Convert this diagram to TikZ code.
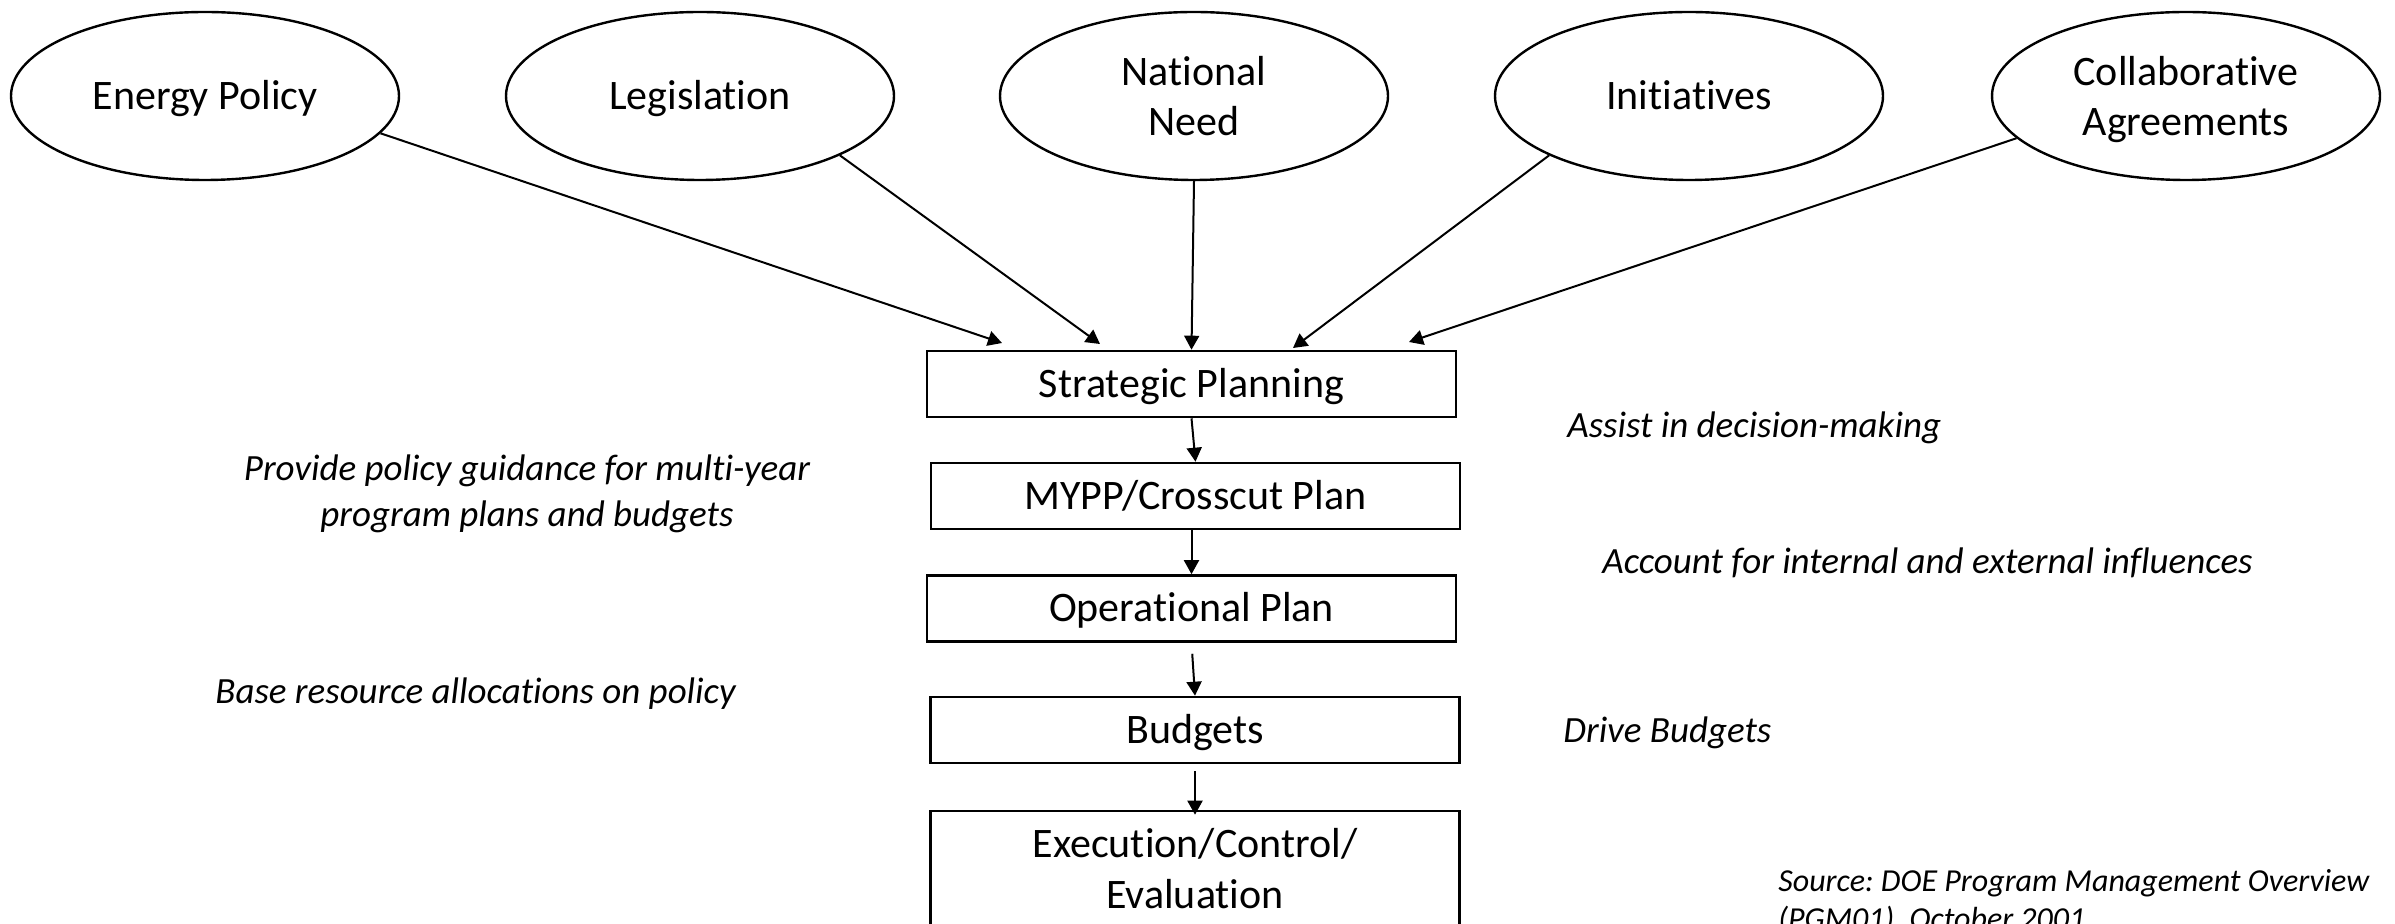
\documentclass[tikz,border=0pt]{standalone}
\usepackage{fontspec}
\setmainfont{Carlito}[Ligatures=NoCommon]
\usetikzlibrary{shapes.geometric,arrows.meta}
\frenchspacing
\begin{document}
\begin{tikzpicture}[x=0.5pt,y=-0.5pt,
  oval/.style={draw,ellipse,line width=1.2pt,minimum width=194pt,minimum height=84pt,inner sep=0pt,align=center,font=\fontsize{21}{25}\selectfont},
  one/.style={text height=16pt,text depth=2.5pt},
  box/.style={draw,rectangle,line width=1.3pt,minimum width=264.5pt,minimum height=33pt,inner sep=0pt,align=center,font=\fontsize{21}{25.5}\selectfont},
  note/.style={inner sep=0pt,align=center,font=\fontsize{18.5}{23}\selectfont\itshape},
  arr/.style={-{Triangle[length=7pt,width=7.5pt]},line width=1pt}]
\path[use as bounding box] (0,0) rectangle (2395,924);
\fill[white] (0,0) rectangle (2395,924);
\clip (0,0) rectangle (2395,924);
% top ovals
\node[oval,one] (e1) at (205,96) {Energy Policy};
\node[oval,one] (e2) at (700,96) {Legislation};
\node[oval] (e3) at (1194,96) {National\\Need};
\node[oval,one] (e4) at (1689,96) {Initiatives};
\node[oval] (e5) at (2186,96) {Collaborative\\\raisebox{0pt}[\height][0pt]{Agreements}};
% boxes
\node[box,one] (sp) at (1191.5,384) {Strategic Planning};
\node[box,one] (my) at (1195.5,496) {MYPP/Crosscut Plan};
\node[box,one] (op) at (1191.5,608.5) {Operational Plan};
\node[box,one] (bu) at (1195,730) {Budgets};
\node[box,minimum height=57.5pt] (ex) at (1195,868.5) {Execution/Control/\\Evaluation};
% arrow ends
\coordinate (t1) at (1002,343);
\coordinate (t2) at (1100,344);
\coordinate (t4) at (1293,348);
\coordinate (t5) at (1409,342);
\draw[arr] (e1.-12) -- (t1);
\draw[arr] (e2.-23) -- (t2);
\draw[arr] (e3.south) -- (sp.north);
\draw[arr] (e4.-157) -- (t4);
\draw[arr] (e5.-166) -- (t5);
\draw[arr] (sp.south) -- (my.north);
\draw[arr] (my.south -| op.north) -- (op.north);
\draw[arr,shorten <=5.5pt] (op.south) -- (bu.north);
\draw[arr,shorten <=3.5pt,shorten >=-2.5pt] (bu.south) -- (ex.north);
% notes
\node[note] (n1) at (527,494) {Provide policy guidance for multi-year\\program plans and budgets};
\node[note,anchor=west] (n2) at (215,694) {Base resource allocations on policy};
\node[note,anchor=west] (n3) at (1567,428) {Assist in decision-making};
\node[note,anchor=west] (n4) at (1602,563) {Account for internal and external influences};
\node[note,anchor=west] (n5) at (1563,733) {Drive Budgets};
\node[inner sep=0pt,anchor=north west,align=left,font=\fontsize{16}{19}\selectfont\itshape] (src) at (1778,869) {Source: DOE Program Management Overview\\(PGM01), October 2001};
\end{tikzpicture}
\end{document}
